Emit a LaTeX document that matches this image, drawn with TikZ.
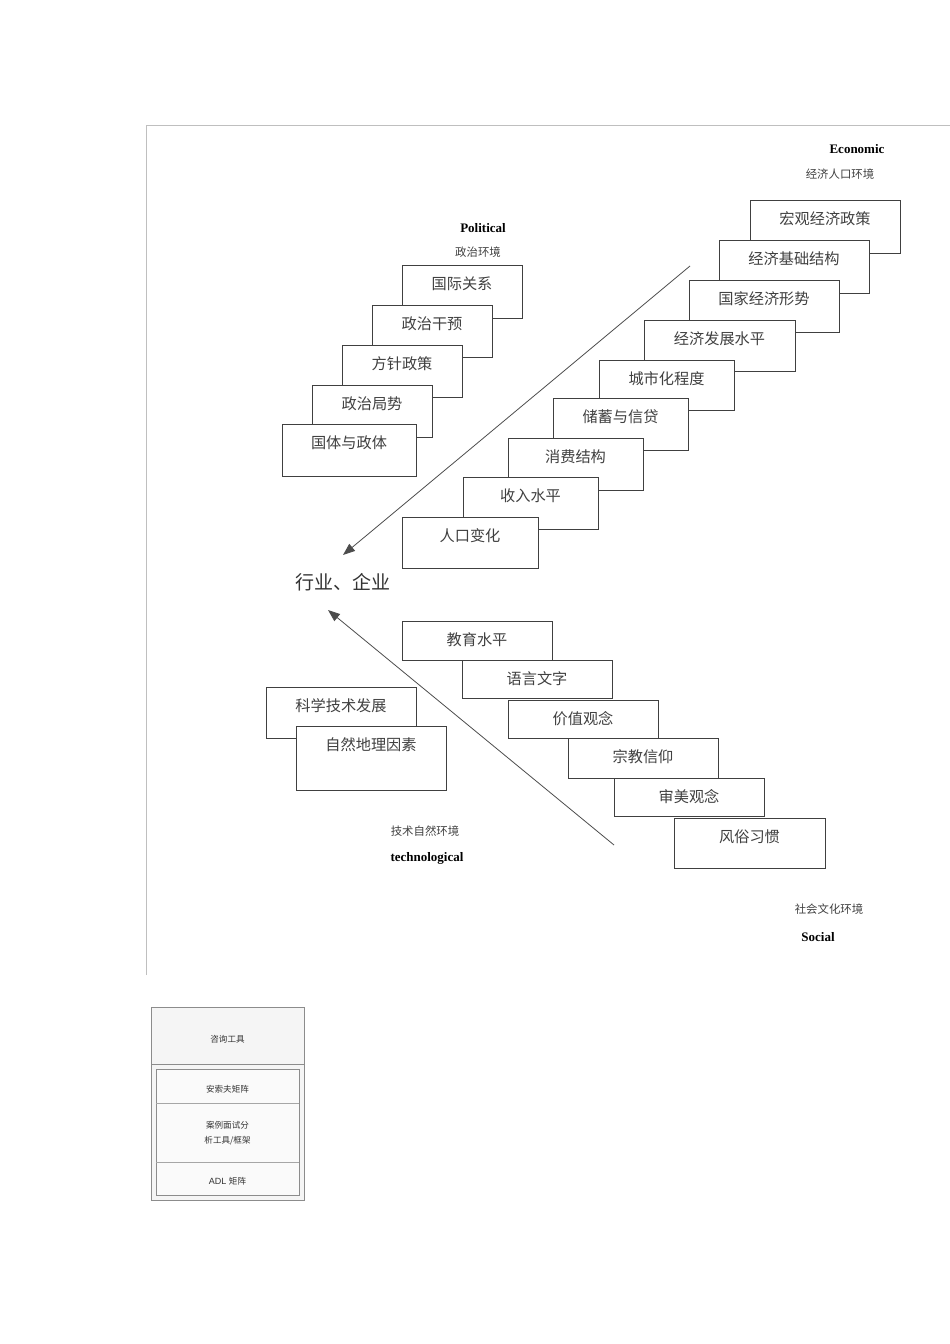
\documentclass[tikz,border=0pt]{standalone}
\usepackage{fontspec}
\setmainfont{Liberation Serif}
\newfontfamily\cjk{Noto Sans CJK SC}[Scale=0.95]
\usetikzlibrary{arrows.meta}
\begin{document}
\begin{tikzpicture}[x=1pt,y=-1pt,
  bx/.style={draw=black!75,line width=0.8pt,fill=white},
  bt/.style={font=\cjk\fontsize{16}{16}\selectfont,text=black!75},
  lab/.style={font=\cjk\fontsize{12}{12}\selectfont,text=black!75},
  en/.style={font=\bfseries\fontsize{13}{13}\selectfont},
  tb/.style={font=\cjk\fontsize{9}{9}\selectfont,text=black!80},
  arr/.style={draw=black!70,line width=0.8pt,-{Triangle[length=12pt,width=9pt]}}]
\useasboundingbox (0,0) rectangle (950,1344);
\draw[black!25] (146,975) -- (146,125) -- (950,125);
\newcommand\bb[6]{\draw[bx] (#2,#3) rectangle (#4,#5); \node[bt] (#1) at ({(#2+#4)/2},{#3+19}) {#6};}
% political
\bb{p1}{402}{265}{522}{318}{国际关系}
\bb{p2}{372}{305}{492}{357}{政治干预}
\bb{p3}{342}{345}{462}{397}{方针政策}
\bb{p4}{312}{385}{432}{437}{政治局势}
\bb{p5}{282}{424}{416}{476}{国体与政体}
\node[en] (pol) at (483,228) {Political};
\node[lab] (pold) at (478,252) {政治环境};
% economic
\bb{e1}{750}{200}{900}{253}{宏观经济政策}
\bb{e2}{719}{240}{869}{293}{经济基础结构}
\bb{e3}{689}{280}{839}{332}{国家经济形势}
\bb{e4}{644}{320}{795}{371}{经济发展水平}
\bb{e5}{599}{360}{734}{410}{城市化程度}
\bb{e6}{553}{398}{688}{450}{储蓄与信贷}
\bb{e7}{508}{438}{643}{490}{消费结构}
\bb{e8}{463}{477}{598}{529}{收入水平}
\bb{e9}{402}{517}{538}{568}{人口变化}
\node[en] (eco) at (857,149) {Economic};
\node[lab] (ecod) at (840,174) {经济人口环境};
% social
\bb{s1}{402}{621}{552}{660}{教育水平}
\bb{s2}{462}{660}{612}{698}{语言文字}
\bb{s3}{508}{700}{658}{738}{价值观念}
\bb{s4}{568}{738}{718}{778}{宗教信仰}
\bb{s5}{614}{778}{764}{816}{审美观念}
\bb{s6}{674}{818}{825}{868}{风俗习惯}
\node[lab] (socd) at (829,909) {社会文化环境};
\node[en] (soc) at (818,937) {Social};
% tech
\bb{t1}{266}{687}{416}{738}{科学技术发展}
\bb{t2}{296}{726}{446}{790}{自然地理因素}
\path (t2) ++(0,18) coordinate (dummy);
\node[lab] (tecd) at (425,831) {技术自然环境};
\node[en] (tec) at (427,858) {technological};
% center
\node[font=\cjk\fontsize{20}{20}\selectfont,text=black!80] (ind) at (343,582) {行业、企业};
\coordinate (a1s) at (690,266); \coordinate (a1e) at (343,555);
\coordinate (a2s) at (614,845); \coordinate (a2e) at (328,610);
\draw[arr] (a1s) -- (a1e);
\draw[arr] (a2s) -- (a2e);
% table
\draw[black!45,fill=black!4] (151,1007) rectangle (304,1200);
\draw[black!45] (151,1064) -- (304,1064);
\draw[black!45,line width=1pt,fill=black!2] (156,1069) rectangle (299,1195);
\draw[black!35] (156,1103) -- (299,1103) (156,1162) -- (299,1162);
\node[tb] (h) at (227.5,1039) {咨询工具};
\node[tb] (r1) at (227.5,1089) {安索夫矩阵};
\node[tb,align=center] (r2) at (227.5,1133) {案例面试分\\[6pt]析工具/框架};
\node[tb] (r3) at (227.5,1181) {\fontspec{Liberation Sans}ADL\ \cjk 矩阵};
\end{tikzpicture}
\end{document}
